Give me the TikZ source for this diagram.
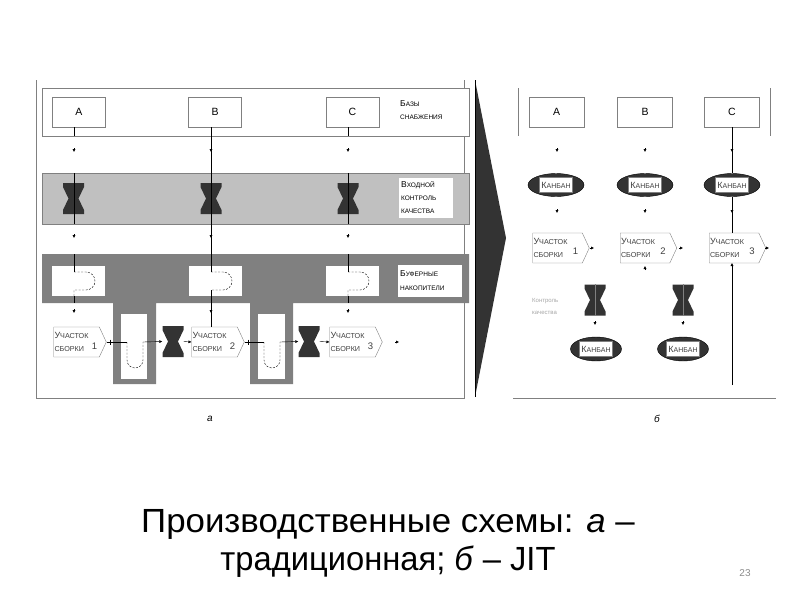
\documentclass[tikz,border=0pt]{standalone}
\usepackage{fontspec}
\setmainfont{Liberation Sans}
\usepackage{tikz}
\usetikzlibrary{positioning,shapes.geometric,shapes.symbols,arrows.meta}
\usepackage{xcolor}
\definecolor{hgdark}{HTML}{333333}
\definecolor{bandlight}{HTML}{C0C0C0}
\definecolor{banddark}{HTML}{808080}
\definecolor{edge}{HTML}{808080}
\definecolor{txt}{HTML}{404040}
\newcommand{\sck}[2]{{\fontsize{8.5}{8.5}\selectfont #1}{\fontsize{6.5}{6.5}\selectfont #2}}
\newcommand{\smc}[1]{{\fontsize{6.5}{6.5}\selectfont #1}}
\newcommand{\stn}{{\fontsize{9}{9}\selectfont У}{\fontsize{7.2}{7.2}\selectfont ЧАСТОК}\\{\fontsize{7.2}{7.2}\selectfont СБОРКИ}}
\newcommand{\kb}{{\fontsize{9}{9}\selectfont К}{\fontsize{7}{7}\selectfont АНБАН}}

\begin{document}
\begin{tikzpicture}[x=1pt, y=-1pt,
  supply/.style={draw=edge, fill=white, minimum width=53pt, minimum height=30pt, inner sep=0pt, font=\fontsize{10.5}{10.5}\selectfont},
  hglass/.style={minimum width=21pt, minimum height=31pt, inner sep=0pt, path picture={
    \fill[hgdark] (path picture bounding box.north west) -- (path picture bounding box.north east)
      -- ([yshift=-4pt]path picture bounding box.north east) -- ([xshift=5pt]path picture bounding box.center)
      -- ([yshift=4pt]path picture bounding box.south east) -- (path picture bounding box.south east)
      -- (path picture bounding box.south west) -- ([yshift=4pt]path picture bounding box.south west)
      -- ([xshift=-5pt]path picture bounding box.center) -- ([yshift=-4pt]path picture bounding box.north west) -- cycle;}},
  buffer/.style={fill=white, minimum width=53pt, minimum height=30pt, inner sep=0pt},
  station/.style={signal, signal to=east, signal pointer angle=130, draw=edge, fill=white, minimum width=50pt, minimum height=30pt, text width=44pt, align=left, inner sep=0.8pt, text=txt, font=\fontsize{7.2}{12.5}\selectfont},
  num/.style={inner sep=0pt, text=txt, font=\fontsize{9.5}{9.5}\selectfont},
  kanban/.style={ellipse, fill=hgdark, draw=black, minimum width=56pt, minimum height=23pt, inner sep=0pt},
  kbox/.style={draw=edge, fill=white, inner sep=1pt, minimum width=33pt, minimum height=15pt, text=txt},
  tag/.style={fill=white, align=left, inner sep=2pt, anchor=west, font=\fontsize{6.5}{13}\selectfont},
  tip/.style={-{Latex[length=3pt,width=3pt]}},
  buf/.style={dashed, dash pattern=on 2pt off 1.5pt},
  capt/.style={font=\itshape\fontsize{10}{10}\selectfont},
  title/.style={anchor=base, font=\fontsize{33.5}{33.5}\selectfont}]
\useasboundingbox (0,0) rectangle (800,600);

% а: traditional scheme
\draw[edge] (36,80) -- (36,398) -- (464,398) -- (464,80);
\draw[edge, fill=white] (42,88) rectangle (469,136);
\draw[edge, fill=bandlight] (42,173) rectangle (469,224);
\fill[banddark] (42,254) -- (469,254) -- (469,303) -- (293,303) -- (293,384) -- (250,384) -- (250,303)
  -- (156,303) -- (156,384) -- (113,384) -- (113,303) -- (42,303) -- cycle;

\node[supply] (a1) at (79,112) {A};
\node[supply] (b1) at (215,112) {B};
\node[supply] (c1) at (352.5,112) {C};
\node[tag, fill=none] (lsup) at (398,110) {\sck{Б}{АЗЫ}\\\smc{СНАБЖЕНИЯ}};

\node[hglass] (qa) at (73.5,198.5) {};
\node[hglass] (qb) at (211,198.5) {};
\node[hglass] (qc) at (348,198.5) {};
\node[tag, text width=50pt, minimum height=40pt] (lqc) at (399,198) {\sck{В}{ХОДНОЙ}\\\smc{КОНТРОЛЬ}\\\smc{КАЧЕСТВА}};

\node[buffer] (ba) at (78.5,281) {};
\node[buffer] (bb) at (215,281) {};
\node[buffer] (bc) at (352,281) {};
\node[buffer, minimum width=26pt, minimum height=65pt] (l1) at (134,346.5) {};
\node[buffer, minimum width=27pt, minimum height=65pt] (l2) at (271.5,346.5) {};
\node[tag, text width=60pt, minimum height=32pt, font=\fontsize{6.5}{14}\selectfont] (lbuf) at (398,281) {\sck{Б}{УФЕРНЫЕ}\\\smc{НАКОПИТЕЛИ}};

\node[station] (s1) at (76.5,342) {\stn};
\node[station] (s2) at (214.5,342) {\stn};
\node[station] (s3) at (352.5,342) {\stn};
\node[num] (n1) at (94.5,346) {1};
\node[num] (n2) at (232.5,346) {2};
\node[num] (n3) at (370.5,346) {3};
\node[hglass] (h1) at (173,341.5) {};
\node[hglass] (h2) at (309,341.5) {};

\foreach \x in {74,348} {
  \draw (\x,127) -- (\x,136);
  \draw (\x,173) -- (\x,224);
  \draw[tip] (\x,148) -- (\x,152);
  \draw[tip] (\x,234) -- (\x,238);
  \draw (\x,254) -- (\x,272);
  \draw[buf] (\x,272) -- ++(12,0) arc(-90:90:9) -- (\x,290) -- (\x,296);
  \draw (\x,296) -- (\x,303);
  \draw[tip] (\x,309) -- (\x,313);
}
\draw (211,127) -- (211,272);
\draw[buf] (211,272) -- ++(12,0) arc(-90:90:9) -- (211,290);
\draw (211,290) -- (211,327);
\foreach \y in {152,238,313} \draw[tip] (211,\y-4) -- (211,\y);

\draw (s1.east) ++(4,-2.5) -- ++(0,5);
\draw (s1.east) -- (127,342);
\draw[buf] (127,342) -- (127,360) arc(180:0:8) -- (143,342);
\draw[tip] (143,342) -- (h1.west);
\draw[tip] (h1.east) -- (s2.west);
\draw (s2.east) ++(4,-2.5) -- ++(0,5);
\draw (s2.east) -- (264,342);
\draw[buf] (264,342) -- (264,360) arc(180:0:8) -- (280,342);
\draw[tip] (280,342) -- (h2.west);
\draw[tip] (h2.east) -- (s3.west);
\draw[tip] (395,342) -- (399,342);

\node[capt] (capa) at (210,419) {а};

% transition arrow
\fill[hgdark] (475,80) -- (506,238) -- (475,397) -- cycle;
\draw (475,80) -- (475,397);

% б: JIT scheme
\draw[edge] (518,88) -- (518,136);
\draw[edge] (770,88) -- (770,136);
\draw[edge] (513,398) -- (776,398);

\node[supply, minimum width=55pt] (a2) at (556.5,112) {A};
\node[supply, minimum width=55pt] (b2) at (645,112) {B};
\node[supply, minimum width=55pt] (c2) at (732,112) {C};

\node[kanban] (ka) at (556,185) {};
\node[kbox] (kta) at (ka) {\kb};
\node[kanban] (kb) at (645,185) {};
\node[kbox] (ktb) at (kb) {\kb};
\node[kanban] (kc) at (732,185) {};
\node[kbox] (ktc) at (kc) {\kb};

\node[station, minimum width=54pt, text width=48pt] (s4) at (557.5,248) {\stn};
\node[station, minimum width=54pt, text width=48pt] (s5) at (645,248) {\stn};
\node[station, minimum width=54pt, text width=48pt] (s6) at (734,248) {\stn};
\node[num] (n4) at (575.5,251) {1};
\node[num] (n5) at (663,251) {2};
\node[num] (n6) at (752,251) {3};

\node[hglass] (ha) at (595,300) {};
\node[hglass] (hb) at (683,300) {};
\draw[gray, thin] (ha.north) -- (ha.south);
\draw[gray, thin] (hb.north) -- (hb.south);
\node[tag, fill=none, text=black!35, font=\fontsize{6}{12}\selectfont] (lkk) at (530,306) {Контроль\\качества};

\node[kanban, minimum width=51pt, minimum height=24pt] (kd) at (596,349) {};
\node[kbox] (ktd) at (kd) {\kb};
\node[kanban, minimum width=51pt, minimum height=24pt] (ke) at (683,349) {};
\node[kbox] (kte) at (ke) {\kb};

\foreach \x in {557,645,732} {
  \draw[tip] (\x,148) -- (\x,152);
  \draw[tip] (\x,209) -- (\x,213);
}
\draw (c2.south) -- (kc.north);
\draw (kc.south) -- (kc.south |- s6.north);
\draw[tip] (732,385) -- (732,263);
\draw[tip] (645,270) -- (645,266);
\foreach \x in {590,679,765} \draw[tip] (\x,248) -- (\x+4,248);
\foreach \x in {595,683} \draw[tip] (\x,321) -- (\x,325);

\node[capt] (capb) at (657,419) {б};

% caption
\node[title] (t1) at (388,532) {\scalebox{1.04}[1]{Производственные схемы: \textit{а} –}};
\node[title] (t2) at (388,570) {\scalebox{0.976}[1]{традиционная; \textit{б} – JIT}};
\node[text=black!45, font=\fontsize{10}{10}\selectfont] (pg) at (745,573) {23};
\end{tikzpicture}
\end{document}
